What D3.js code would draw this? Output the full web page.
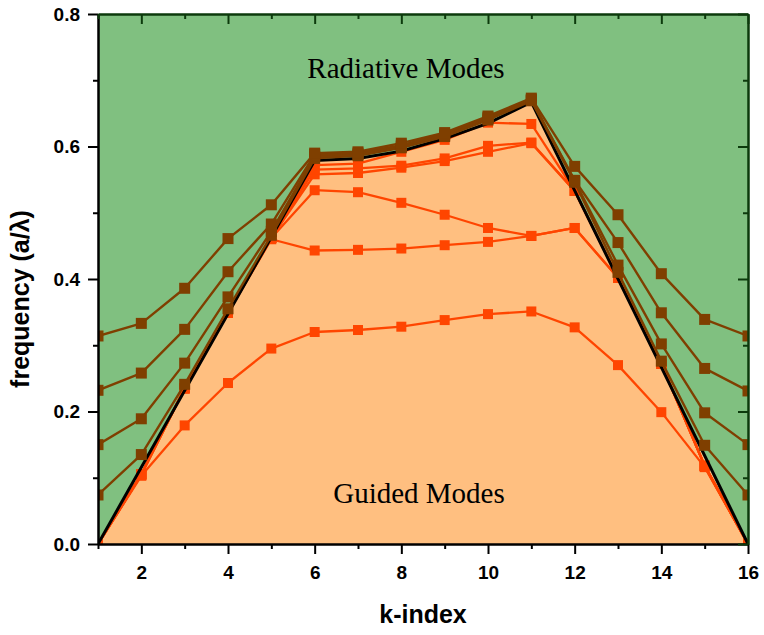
<!DOCTYPE html>
<html>
<head>
<meta charset="utf-8">
<script src="https://cdn.jsdelivr.net/npm/d3@7"></script>
<style>
  html, body { margin: 0; padding: 0; background: #fff; }
  svg { display: block; }
</style>
</head>
<body>
<svg id="chart" width="764" height="635"></svg>
<script>
// k-path sample points
const kIndex = [1, 2, 3, 4, 5, 6, 7, 8, 9, 10, 11, 12, 13, 14, 15, 16];

// Bands above the light line (radiative)
const radiative1 = [0.314, 0.333, 0.386, 0.461, 0.512, 0.590, 0.592, 0.605, 0.621, 0.646, 0.673, 0.570, 0.497, 0.408, 0.339, 0.314];
const radiative2 = [0.232, 0.258, 0.324, 0.411, 0.483, 0.588, 0.590, 0.602, 0.619, 0.644, 0.671, 0.549, 0.455, 0.349, 0.265, 0.231];
const radiative3 = [0.150, 0.189, 0.273, 0.373, 0.472, 0.585, 0.588, 0.600, 0.617, 0.642, 0.670, 0.548, 0.421, 0.302, 0.198, 0.150];
const radiative4 = [0.074, 0.135, 0.241, 0.355, 0.466, 0.582, 0.586, 0.598, 0.615, 0.640, 0.669, 0.546, 0.410, 0.276, 0.149, 0.074];

// Bands below the light line (guided)
const guided1 = [0.000, 0.103, 0.179, 0.243, 0.295, 0.320, 0.323, 0.328, 0.338, 0.347, 0.351, 0.327, 0.270, 0.199, 0.116, 0.000];
const guided2 = [0.000, 0.105, 0.235, 0.349, 0.460, 0.443, 0.444, 0.446, 0.451, 0.456, 0.465, 0.477, 0.402, 0.272, 0.118, 0.000];
const guided3 = [0.000, 0.105, 0.235, 0.349, 0.462, 0.534, 0.531, 0.515, 0.497, 0.477, 0.465, 0.477, 0.402, 0.272, 0.118, 0.000];
const guided4 = [0.000, 0.105, 0.235, 0.349, 0.462, 0.565, 0.567, 0.571, 0.582, 0.601, 0.606, 0.533, 0.402, 0.272, 0.118, 0.000];
const guided5 = [0.000, 0.105, 0.235, 0.349, 0.462, 0.558, 0.560, 0.568, 0.578, 0.592, 0.605, 0.533, 0.402, 0.272, 0.118, 0.000];
const guided6 = [0.000, 0.105, 0.235, 0.349, 0.462, 0.572, 0.574, 0.592, 0.610, 0.636, 0.634, 0.533, 0.402, 0.272, 0.118, 0.000];

// Light line vertices
const lightLineK = [1, 6, 7, 8, 9, 10, 11, 16];
const lightLineFreq = [0.000, 0.579, 0.582, 0.593, 0.612, 0.635, 0.667, 0.000];

// Axis ticks
const xMajorTicks = [2, 4, 6, 8, 10, 12, 14, 16];
const xMinorTicks = [1, 3, 5, 7, 9, 11, 13, 15];
const yMajorTicks = [0.0, 0.2, 0.4, 0.6, 0.8];
const yMinorTicks = [0.1, 0.3, 0.5, 0.7];

const xTitle = "k-index";
const yTitle = "frequency (a/\u03bb)";
const upperRegionLabel = "Radiative Modes";
const lowerRegionLabel = "Guided Modes";

// ---- layout & styles ----
const plot = { left: 98, right: 748, top: 14, bottom: 544 };
const colors = {
  radiativeBg: "#80c080",
  guidedBg: "#ffbf80",
  radiative: "#7f3f00",
  guided: "#ff4500",
  lightLine: "#000000",
  frame: "#0c3a0c"
};
const sansBold = "'Liberation Sans', Arial, sans-serif";
const serif = "'Liberation Serif', 'Times New Roman', serif";

const svg = d3.select("#chart");

const x = d3.scaleLinear().domain([1, 16]).range([plot.left, plot.right]);
const y = d3.scaleLinear().domain([0, 0.8]).range([plot.bottom, plot.top]);

svg.append("defs").append("clipPath").attr("id", "plot-clip")
  .append("rect")
  .attr("x", plot.left).attr("y", plot.top)
  .attr("width", plot.right - plot.left).attr("height", plot.bottom - plot.top);

const body = svg.append("g").attr("clip-path", "url(#plot-clip)");

// Radiative background
body.append("rect")
  .attr("x", plot.left).attr("y", plot.top)
  .attr("width", plot.right - plot.left).attr("height", plot.bottom - plot.top)
  .attr("fill", colors.radiativeBg);

// Guided region below the light line
const lightPts = lightLineK.map((k, i) => [k, lightLineFreq[i]]);
body.append("path")
  .datum(lightPts)
  .attr("fill", colors.guidedBg)
  .attr("d", d3.area().x(d => x(d[0])).y0(y(0)).y1(d => y(d[1])));

function drawBand(values, color, lineWidth, markerSize) {
  const pts = kIndex.map((k, i) => [k, values[i]]);
  const g = body.append("g");
  g.append("path")
    .datum(pts)
    .attr("fill", "none")
    .attr("stroke", color)
    .attr("stroke-width", lineWidth)
    .attr("stroke-linejoin", "round")
    .attr("d", d3.line().x(d => x(d[0])).y(d => y(d[1])));
  g.selectAll("rect")
    .data(pts)
    .join("rect")
    .attr("x", d => x(d[0]) - markerSize / 2)
    .attr("y", d => y(d[1]) - markerSize / 2)
    .attr("width", markerSize)
    .attr("height", markerSize)
    .attr("fill", color);
}

// Guided bands
[guided6, guided5, guided4, guided3, guided2, guided1].forEach(v =>
  drawBand(v, colors.guided, 2.3, 10));

// Light line
body.append("path")
  .datum(lightPts)
  .attr("fill", "none")
  .attr("stroke", colors.lightLine)
  .attr("stroke-width", 3)
  .attr("stroke-linejoin", "round")
  .attr("d", d3.line().x(d => x(d[0])).y(d => y(d[1])));

// Radiative bands
[radiative4, radiative3, radiative2, radiative1].forEach(v =>
  drawBand(v, colors.radiative, 2.4, 11));

// Region labels
svg.append("text")
  .attr("x", 406).attr("y", 78)
  .attr("text-anchor", "middle")
  .attr("font-family", serif)
  .attr("font-size", 29)
  .attr("fill", "#000")
  .text(upperRegionLabel);

svg.append("text")
  .attr("x", 419).attr("y", 503)
  .attr("text-anchor", "middle")
  .attr("font-family", serif)
  .attr("font-size", 29)
  .attr("fill", "#000")
  .text(lowerRegionLabel);

// ---- axes ----
function styleAxis(g, color, fontSize) {
  g.selectAll("path.domain").attr("stroke", color).attr("stroke-width", 2);
  g.selectAll(".tick line").attr("stroke", color).attr("stroke-width", 2);
  g.selectAll(".tick text")
    .attr("font-family", sansBold)
    .attr("font-weight", "bold")
    .attr("font-size", fontSize)
    .attr("fill", "#000");
}

// Bottom
svg.append("g")
  .attr("transform", `translate(0,${plot.bottom})`)
  .call(d3.axisBottom(x).tickValues(xMajorTicks).tickFormat(d3.format("d"))
    .tickSize(10).tickSizeOuter(0).tickPadding(12))
  .call(g => styleAxis(g, "#000", 19));
svg.append("g")
  .attr("transform", `translate(0,${plot.bottom})`)
  .call(d3.axisBottom(x).tickValues(xMinorTicks).tickFormat("").tickSize(5).tickSizeOuter(0))
  .call(g => styleAxis(g, "#000", 19));

// Left
svg.append("g")
  .attr("transform", `translate(${plot.left},0)`)
  .call(d3.axisLeft(y).tickValues(yMajorTicks).tickFormat(d3.format(".1f"))
    .tickSize(10).tickSizeOuter(0).tickPadding(8))
  .call(g => styleAxis(g, "#000", 19));
svg.append("g")
  .attr("transform", `translate(${plot.left},0)`)
  .call(d3.axisLeft(y).tickValues(yMinorTicks).tickFormat("").tickSize(5).tickSizeOuter(0))
  .call(g => styleAxis(g, "#000", 19));

// Top (mirror, inward ticks)
svg.append("g")
  .attr("transform", `translate(0,${plot.top})`)
  .call(d3.axisBottom(x).tickValues(xMajorTicks).tickFormat("").tickSize(10).tickSizeOuter(0))
  .call(g => styleAxis(g, colors.frame, 19));
svg.append("g")
  .attr("transform", `translate(0,${plot.top})`)
  .call(d3.axisBottom(x).tickValues(xMinorTicks).tickFormat("").tickSize(5).tickSizeOuter(0))
  .call(g => styleAxis(g, colors.frame, 19));

// Right (mirror, inward ticks)
svg.append("g")
  .attr("transform", `translate(${plot.right},0)`)
  .call(d3.axisRight(y).tickValues(yMajorTicks).tickFormat("").tickSize(-10).tickSizeOuter(0))
  .call(g => styleAxis(g, colors.frame, 19));
svg.append("g")
  .attr("transform", `translate(${plot.right},0)`)
  .call(d3.axisRight(y).tickValues(yMinorTicks).tickFormat("").tickSize(-5).tickSizeOuter(0))
  .call(g => styleAxis(g, colors.frame, 19));

// Axis titles
svg.append("text")
  .attr("x", (plot.left + plot.right) / 2)
  .attr("y", 623)
  .attr("text-anchor", "middle")
  .attr("font-family", sansBold)
  .attr("font-weight", "bold")
  .attr("font-size", 25)
  .text(xTitle);

svg.append("text")
  .attr("transform", "translate(29,299) rotate(-90)")
  .attr("text-anchor", "middle")
  .attr("font-family", sansBold)
  .attr("font-weight", "bold")
  .attr("font-size", 25)
  .text(yTitle);
</script>
</body>
</html>
